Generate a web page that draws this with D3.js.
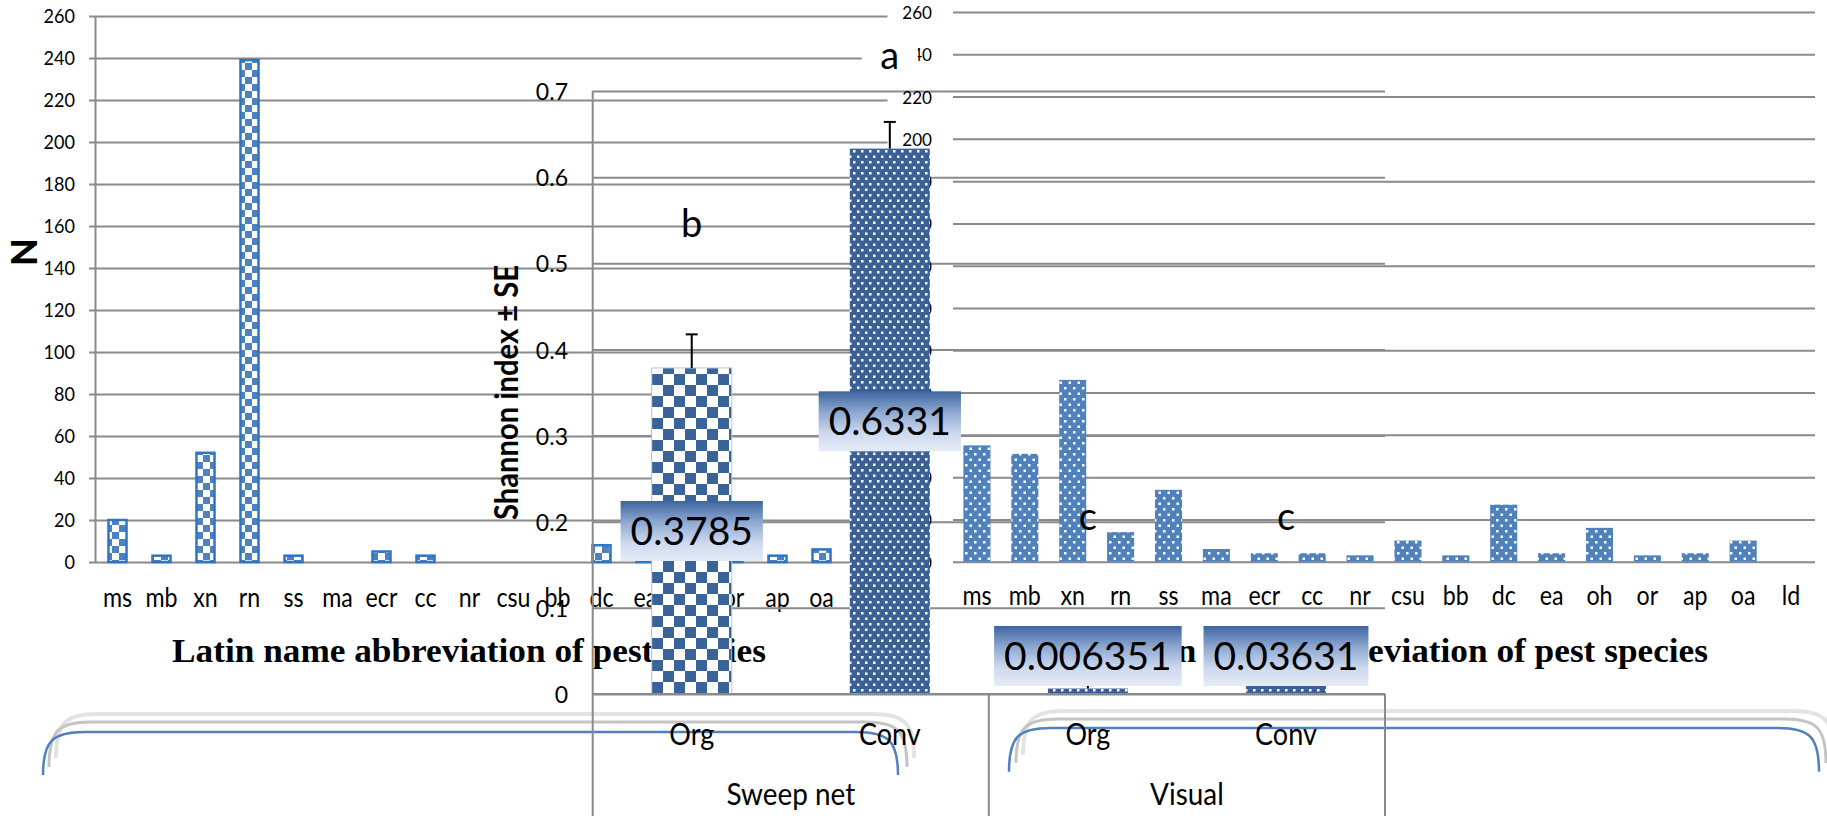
<!DOCTYPE html>
<html lang="en">
<head>
<meta charset="UTF-8">
<title>Pest species counts and Shannon index</title>
<script src="https://cdn.jsdelivr.net/npm/d3@7/dist/d3.min.js"></script>
<style>
  html, body { margin: 0; background: #fff; }
  svg { display: block; }
  text { font-family: Lato, "Open Sans", sans-serif; fill: #000; }
</style>
</head>
<body>
<svg id="chart" width="1827" height="816"></svg>
<script>
// ---- data ----
const species = ["ms", "mb", "xn", "rn", "ss", "ma", "ecr", "cc", "nr", "csu", "bb", "dc", "ea", "oh", "or", "ap", "oa", "ld"];
// sweep net counts (ea, oh, or, ld are hidden behind the middle chart in the picture)
const sweepCounts = [20, 3, 52, 239, 3, 0, 5, 3, 0, 0, 0, 8, 2, 3, 2, 3, 6, 1];
// visual counts
const visualCounts = [55, 51, 86, 14, 34, 6, 4, 4, 3, 10, 3, 27, 4, 16, 3, 4, 10, 0];
const countTicks = [0, 20, 40, 60, 80, 100, 120, 140, 160, 180, 200, 220, 240, 260];

const methods = ["Sweep net", "Visual"];
const treatments = ["Org", "Conv"];
const shannon = [0.3785, 0.6331, 0.006351, 0.03631];
const shannonSE = [0.039, 0.031, 0.004, 0.008];
const shannonLabels = ["0.3785", "0.6331", "0.006351", "0.03631"];
const letters = ["b", "a", "c", "c"];
const letterAt = [0.53, 0.725, 0.19, 0.19];
const shannonTicks = [0, 0.1, 0.2, 0.3, 0.4, 0.5, 0.6, 0.7];

const GRID = "#8a8a8a";
const svg = d3.select("#chart");
const defs = svg.append("defs");

// patterns
const pChk1 = defs.append("pattern").attr("id", "chk1").attr("patternUnits", "userSpaceOnUse")
  .attr("width", 14).attr("height", 14);
pChk1.append("rect").attr("width", 14).attr("height", 14).attr("fill", "#fff");
pChk1.append("rect").attr("width", 7).attr("height", 7).attr("fill", "#4f81bd");
pChk1.append("rect").attr("x", 7).attr("y", 7).attr("width", 7).attr("height", 7).attr("fill", "#4f81bd");

const pChk2 = defs.append("pattern").attr("id", "chk2").attr("patternUnits", "userSpaceOnUse")
  .attr("width", 22).attr("height", 22).attr("x", 652).attr("y", 0);
pChk2.append("rect").attr("width", 22).attr("height", 22).attr("fill", "#fff");
pChk2.append("rect").attr("width", 11).attr("height", 11).attr("fill", "#3a6399");
pChk2.append("rect").attr("x", 11).attr("y", 11).attr("width", 11).attr("height", 11).attr("fill", "#3a6399");

const pDot2 = defs.append("pattern").attr("id", "dot2").attr("patternUnits", "userSpaceOnUse")
  .attr("width", 8).attr("height", 11);
pDot2.append("rect").attr("width", 8).attr("height", 11).attr("fill", "#3a6096");
pDot2.append("rect").attr("x", 1).attr("y", 1.5).attr("width", 2.5).attr("height", 2.5).attr("fill", "#fff");
pDot2.append("rect").attr("x", 5).attr("y", 7).attr("width", 2.5).attr("height", 2.5).attr("fill", "#fff");

const pDot3 = defs.append("pattern").attr("id", "dot3").attr("patternUnits", "userSpaceOnUse")
  .attr("width", 9).attr("height", 11);
pDot3.append("rect").attr("width", 9).attr("height", 11).attr("fill", "#4f81bd");
pDot3.append("rect").attr("x", 2).attr("y", 2).attr("width", 2.5).attr("height", 2.5).attr("fill", "#fff");
pDot3.append("rect").attr("x", 6.5).attr("y", 7.5).attr("width", 2.5).attr("height", 2.5).attr("fill", "#fff");

const grad = defs.append("linearGradient").attr("id", "lblGrad")
  .attr("x1", 0).attr("y1", 0).attr("x2", 0).attr("y2", 1);
grad.append("stop").attr("offset", "0%").attr("stop-color", "#3d659f");
grad.append("stop").attr("offset", "35%").attr("stop-color", "#8ea8d1");
grad.append("stop").attr("offset", "70%").attr("stop-color", "#cdd9ee");
grad.append("stop").attr("offset", "100%").attr("stop-color", "#e6ecf7");

// helper: squeezed text
function label(g, x, y, s, size, sx, anchor, weight) {
  return g.append("text")
    .attr("transform", `translate(${x},${y}) scale(${sx},1)`)
    .attr("text-anchor", anchor || "middle")
    .style("font-size", size + "px")
    .style("font-weight", weight || "normal")
    .text(s);
}

function styleAxis(ax, fontSize, dx, dy, sx) {
  ax.attr("font-size", null).attr("font-family", null).attr("color", "#000");
  ax.select(".domain").remove();
  ax.selectAll("line").attr("stroke", GRID).attr("stroke-width", 2);
  ax.selectAll("text").attr("x", null).attr("dy", null)
    .attr("transform", `translate(${dx},${dy}) scale(${sx},1)`)
    .style("font-size", fontSize + "px");
}

function serifTitle(g, x) {
  g.append("text").attr("x", x).attr("y", 661.7)
    .attr("textLength", 594).attr("lengthAdjust", "spacingAndGlyphs")
    .style("font-family", "'Liberation Serif', 'DejaVu Serif', serif")
    .style("font-weight", "bold").style("font-size", "34px")
    .text("Latin name abbreviation of pest species");
}

// ---------- chart 1: sweep net counts ----------
const c1 = { l: 95.5, r: 887.5, t: 16, b: 562 };
const x1 = d3.scaleBand().domain(species).range([c1.l, c1.r]);
const y1 = d3.scaleLinear().domain([0, 260]).range([c1.b, c1.t]);
const g1 = svg.append("g");

const ax1 = g1.append("g").attr("transform", `translate(${c1.l},0)`)
  .call(d3.axisLeft(y1).tickValues(countTicks).tickSize(-(c1.r - c1.l)));
styleAxis(ax1, 19, -20.5, 6.7, 0.95);
ax1.selectAll("line").attr("x1", -6.5);
g1.append("line").attr("x1", c1.l).attr("x2", c1.l).attr("y1", c1.t).attr("y2", c1.b)
  .attr("stroke", GRID).attr("stroke-width", 2);

const bw1 = x1.bandwidth() * 0.41;
g1.selectAll("rect.b1").data(species).join("rect")
  .attr("x", (d, i) => x1(d) + (x1.bandwidth() - bw1) / 2)
  .attr("y", (d, i) => y1(sweepCounts[i]))
  .attr("width", bw1)
  .attr("height", (d, i) => c1.b - y1(sweepCounts[i]))
  .attr("fill", "url(#chk1)")
  .attr("stroke", "#2e75c6").attr("stroke-width", 2.5)
  .style("display", (d, i) => sweepCounts[i] > 0 ? null : "none");

species.forEach(s => label(g1, x1(s) + x1.bandwidth() / 2, 606.5, s, 27, 0.86));
serifTitle(g1, 172);
g1.append("text").attr("transform", "translate(37,252) rotate(-90)")
  .attr("text-anchor", "middle").style("font-weight", "900").style("font-size", "36px").text("N");

// ---------- chart 2 scales ----------
const c2 = { l: 592.7, r: 1385, t: 91, b: 694 };
const keys2 = [];
methods.forEach(m => treatments.forEach(t => keys2.push(m + "|" + t)));
const x2 = d3.scaleBand().domain(keys2).range([c2.l, c2.r]);
const y2 = d3.scaleLinear().domain([0, 0.7]).range([c2.b, c2.t]);

// chart 2 gridlines (under chart 3)
const g2a = svg.append("g");
const ax2 = g2a.append("g").attr("transform", `translate(${c2.l},0)`)
  .call(d3.axisLeft(y2).tickValues(shannonTicks).tickSize(-(c2.r - c2.l)));
styleAxis(ax2, 24, -24.7, 8.6, 0.96);
ax2.selectAll("text").text(d => d === 0 ? "0" : d3.format(".1f")(d));

// ---------- chart 3: visual counts ----------
const c3 = { l: 953, r: 1815, t: 12, b: 561.7 };
const x3 = d3.scaleBand().domain(species).range([c3.l, c3.r]);
const y3 = d3.scaleLinear().domain([0, 260]).range([c3.b, c3.t]);
const g3 = svg.append("g");
const ax3 = g3.append("g").attr("transform", `translate(${c3.l},0)`)
  .call(d3.axisLeft(y3).tickValues(countTicks).tickSize(-(c3.r - c3.l)));
styleAxis(ax3, 18, -21, 6.5, 0.95);

const bw3 = x3.bandwidth() * 0.565;
g3.selectAll("rect.b3").data(species).join("rect")
  .attr("x", d => x3(d) + (x3.bandwidth() - bw3) / 2)
  .attr("y", (d, i) => y3(visualCounts[i]))
  .attr("width", bw3)
  .attr("height", (d, i) => c3.b - y3(visualCounts[i]))
  .attr("fill", "url(#dot3)");
species.forEach(s => label(g3, x3(s) + x3.bandwidth() / 2, 605, s, 27, 0.86));
serifTitle(g3, 1114);

// ---------- brackets ----------
function bracket(g, l, r, top, bottom, color, w) {
  const rad = 42;
  g.append("path")
    .attr("d", `M${l},${bottom} C${l},${top + 8} ${l + 10},${top} ${l + rad},${top} L${r - rad},${top} C${r - 10},${top} ${r},${top + 8} ${r},${bottom}`)
    .attr("fill", "none").attr("stroke", color).attr("stroke-width", w);
}
const gb = svg.append("g");
bracket(gb, 56, 914, 714, 758, "#e3e3e3", 4);
bracket(gb, 49, 907, 722, 767, "#c4c4c4", 3);
bracket(gb, 43, 898, 732, 775, "#4f81bd", 2.5);
bracket(gb, 1023, 1834, 711, 755, "#e3e3e3", 4);
bracket(gb, 1016, 1826, 719, 763, "#c4c4c4", 3);
bracket(gb, 1009, 1819, 728, 771.7, "#4f81bd", 2.5);

// ---------- chart 2: Shannon index ----------
const g2 = svg.append("g");
const bw2 = x2.bandwidth() * 0.404;
const barFill = ["url(#chk2)", "url(#dot2)", "url(#dot2)", "url(#dot2)"];
g2.selectAll("rect.b2").data(keys2).join("rect")
  .attr("x", d => x2(d) + (x2.bandwidth() - bw2) / 2)
  .attr("y", (d, i) => y2(shannon[i]))
  .attr("width", bw2)
  .attr("height", (d, i) => c2.b - y2(shannon[i]))
  .attr("fill", (d, i) => barFill[i])
  .attr("stroke", (d, i) => i === 0 ? "#b9c6da" : "none").attr("stroke-width", 1);

// error bars (plus only)
keys2.forEach((k, i) => {
  const cx = x2(k) + x2.bandwidth() / 2;
  const yt = y2(shannon[i] + shannonSE[i]);
  g2.append("line").attr("x1", cx).attr("x2", cx).attr("y1", y2(shannon[i])).attr("y2", yt)
    .attr("stroke", "#000").attr("stroke-width", 2);
  g2.append("line").attr("x1", cx - 6).attr("x2", cx + 6).attr("y1", yt).attr("y2", yt)
    .attr("stroke", "#000").attr("stroke-width", 2);
});

// axes frame
g2.append("line").attr("x1", c2.l).attr("x2", c2.l).attr("y1", c2.t).attr("y2", 816)
  .attr("stroke", GRID).attr("stroke-width", 2);
g2.append("line").attr("x1", c2.l).attr("x2", c2.r).attr("y1", c2.b).attr("y2", c2.b)
  .attr("stroke", GRID).attr("stroke-width", 2);
[x2(keys2[2]), c2.r].forEach(xx => g2.append("line").attr("x1", xx).attr("x2", xx)
  .attr("y1", c2.b).attr("y2", 816).attr("stroke", GRID).attr("stroke-width", 2));

keys2.forEach((k, i) => label(g2, x2(k) + x2.bandwidth() / 2, 745, treatments[i % 2], 30, 0.9));
methods.forEach((m, j) => {
  const a = x2(keys2[j * 2]), b = x2(keys2[j * 2 + 1]) + x2.bandwidth();
  label(g2, (a + b) / 2, 805, m, 30, 0.93);
});

g2.append("text").attr("transform", "translate(518,392.5) rotate(-90)")
  .attr("text-anchor", "middle").attr("textLength", 255).attr("lengthAdjust", "spacingAndGlyphs")
  .style("font-weight", "bold").style("font-size", "33px").text("Shannon index ± SE");

// data label boxes
keys2.forEach((k, i) => {
  const cx = x2(k) + x2.bandwidth() / 2;
  const mid = (y2(shannon[i]) + c2.b) / 2;
  const cy = Math.min(mid, c2.b - 38);
  const gl = g2.append("g");
  const r = gl.append("rect").attr("fill", "url(#lblGrad)");
  const t = gl.append("text").attr("x", cx).attr("y", cy + 14).attr("text-anchor", "middle")
    .style("font-size", "39px").text(shannonLabels[i]);
  const w = t.node().getComputedTextLength() + 20;
  r.attr("x", cx - w / 2).attr("y", cy - 30).attr("width", w).attr("height", 60);
});

// significance letters
keys2.forEach((k, i) => {
  const cx = x2(k) + x2.bandwidth() / 2;
  const yy = y2(letterAt[i]);
  if (letters[i] === "a") {
    g2.append("rect").attr("x", cx - 28).attr("y", yy - 38).attr("width", 56).attr("height", 55).attr("fill", "#fff");
  }
  g2.append("text").attr("x", cx).attr("y", yy).attr("text-anchor", "middle")
    .style("font-size", "38px").text(letters[i]);
});
</script>
</body>
</html>
